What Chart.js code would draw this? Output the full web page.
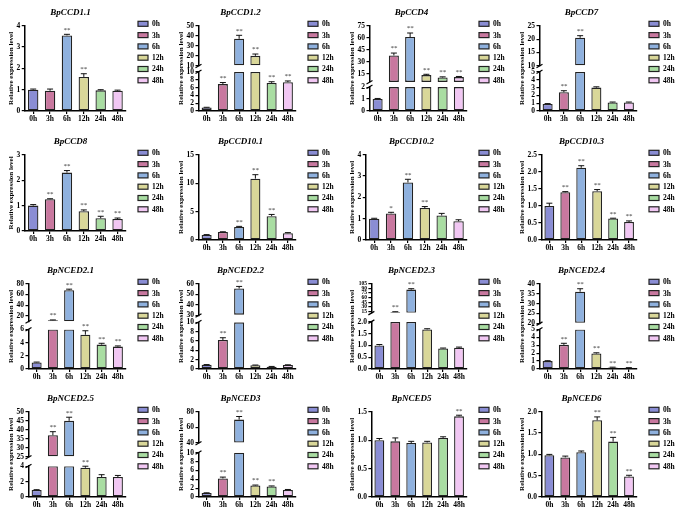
<!DOCTYPE html>
<html>
<head>
<meta charset="utf-8">
<script src="https://cdn.jsdelivr.net/npm/chart.js@4.4.0/dist/chart.umd.min.js"></script>
<style>
  body { margin: 0; background: #fff; }
  #fig { position: relative; width: 685px; height: 519px; overflow: hidden; }
  .panel { position: absolute; }
</style>
</head>
<body>
<div id="fig"></div>
<script>
const times = ['0h', '3h', '6h', '12h', '24h', '48h'];
const barColors = ['#8a8dd4', '#c8789f', '#8fb1de', '#d9d799', '#a9dda2', '#f1c7f3'];

// BpCCD1.1
const ccd11 = [1.0, 0.95, 3.55, 1.6, 0.97, 0.95];
const ccd11Err = [0.03, 0.08, 0.05, 0.15, 0.03, 0.03];
const ccd11Sig = ['', '', '**', '**', '', ''];
const ccd11Ticks = [0, 1, 2, 3, 4];

// BpCCD1.2
const ccd12 = [0.9, 6.9, 37, 20, 7.2, 7.4];
const ccd12Err = [0.05, 0.4, 3.5, 1.8, 0.3, 0.3];
const ccd12Sig = ['', '**', '**', '**', '**', '**'];
const ccd12Ticks = [0, 2, 4, 6, 8, 10];
const ccd12HighTicks = [10, 20, 30, 40, 50];

// BpCCD4
const ccd4 = [1.0, 38, 61, 13.5, 10.5, 11];
const ccd4Err = [0.05, 3, 5, 1.0, 0.8, 0.8];
const ccd4Sig = ['', '**', '**', '**', '**', '**'];
const ccd4Ticks = [0, 1, 2];
const ccd4HighTicks = [15, 30, 45, 60, 75];

// BpCCD7
const ccd7 = [0.9, 2.4, 20.5, 3.0, 1.1, 1.1];
const ccd7Err = [0.05, 0.2, 0.8, 0.1, 0.05, 0.05];
const ccd7Sig = ['', '**', '**', '', '', ''];
const ccd7Ticks = [0, 1, 2, 3, 4, 5];
const ccd7HighTicks = [10, 15, 20, 25];

// BpCCD8
const ccd8 = [1.0, 1.25, 2.3, 0.78, 0.5, 0.47];
const ccd8Err = [0.04, 0.02, 0.08, 0.05, 0.08, 0.04];
const ccd8Sig = ['', '**', '**', '**', '**', '**'];
const ccd8Ticks = [0, 1, 2, 3];

// BpCCD10.1
const ccd101 = [0.9, 1.4, 2.3, 10.8, 4.2, 1.2];
const ccd101Err = [0.05, 0.05, 0.1, 0.7, 0.3, 0.1];
const ccd101Sig = ['', '', '**', '**', '**', ''];
const ccd101Ticks = [0, 5, 10, 15];

// BpCCD10.2
const ccd102 = [1.0, 1.25, 2.7, 1.5, 1.15, 0.88];
const ccd102Err = [0.02, 0.05, 0.15, 0.07, 0.1, 0.07];
const ccd102Sig = ['', '*', '**', '**', '', ''];
const ccd102Ticks = [0, 1, 2, 3, 4];

// BpCCD10.3
const ccd103 = [1.0, 1.4, 2.12, 1.43, 0.63, 0.53];
const ccd103Err = [0.08, 0.02, 0.06, 0.05, 0.01, 0.03];
const ccd103Sig = ['', '**', '**', '**', '**', '**'];
const ccd103Ticks = [0, 0.5, 1.0, 1.5, 2.0, 2.5];

// BpNCED2.1
const nced21 = [1.0, 12, 68, 5.2, 3.7, 3.4];
const nced21Err = [0.05, 0.6, 2, 0.6, 0.2, 0.1];
const nced21Sig = ['', '**', '**', '**', '**', '**'];
const nced21Ticks = [0, 2, 4, 6];
const nced21HighTicks = [20, 40, 60, 80];

// BpNCED2.2
const nced22 = [0.9, 6.2, 55.5, 0.8, 0.5, 0.85];
const nced22Err = [0.05, 0.5, 2, 0.05, 0.05, 0.05];
const nced22Sig = ['', '**', '**', '', '', ''];
const nced22Ticks = [0, 2, 4, 6, 8, 10];
const nced22HighTicks = [30, 40, 50, 60];

// BpNCED2.3
const nced23 = [1.0, 13, 86, 1.68, 0.87, 0.9];
const nced23Err = [0.04, 0.8, 3, 0.03, 0.02, 0.03];
const nced23Sig = ['', '**', '**', '', '', ''];
const nced23Ticks = [0, 0.5, 1.0, 1.5, 2.0];
const nced23HighTicks = [15, 30, 45, 60, 75, 90, 105];

// BpNCED2.4
const nced24 = [1.0, 3.05, 36, 1.95, 0.2, 0.15];
const nced24Err = [0.05, 0.2, 1.5, 0.1, 0.03, 0.02];
const nced24Sig = ['', '**', '**', '**', '**', '**'];
const nced24Ticks = [0, 1, 2, 3, 4, 5];
const nced24HighTicks = [20, 25, 30, 35, 40];

// BpNCED2.5
const nced25 = [0.9, 37, 45, 3.8, 2.6, 2.6];
const nced25Err = [0.05, 2, 2, 0.2, 0.3, 0.2];
const nced25Sig = ['', '**', '**', '**', '', ''];
const nced25Ticks = [0, 2, 4];
const nced25HighTicks = [25, 30, 35, 40, 45, 50];

// BpNCED3
const nced3 = [0.9, 4.2, 70, 2.6, 2.4, 1.6];
const nced3Err = [0.05, 0.3, 4, 0.1, 0.1, 0.1];
const nced3Sig = ['', '**', '**', '**', '**', ''];
const nced3Ticks = [0, 2, 4, 6, 8, 10];
const nced3HighTicks = [40, 60, 80];

// BpNCED5
const nced5 = [1.0, 0.98, 0.95, 0.96, 1.04, 1.42];
const nced5Err = [0.03, 0.06, 0.03, 0.02, 0.02, 0.02];
const nced5Sig = ['', '', '', '', '', '**'];
const nced5Ticks = [0, 0.5, 1.0, 1.5];

// BpNCED6
const nced6 = [0.98, 0.93, 1.05, 1.8, 1.3, 0.48];
const nced6Err = [0.02, 0.03, 0.03, 0.08, 0.1, 0.03];
const nced6Sig = ['', '', '', '**', '**', '**'];
const nced6Ticks = [0, 0.5, 1.0, 1.5, 2.0];

// split = pixel weights of [upper, gap, lower] for broken axes
const panels = [
  { name: 'BpCCD1.1', vals: ccd11, err: ccd11Err, sig: ccd11Sig, ticks: ccd11Ticks },
  { name: 'BpCCD1.2', vals: ccd12, err: ccd12Err, sig: ccd12Sig, ticks: ccd12Ticks, high: ccd12HighTicks, highMin: 10, split: [39, 6, 38] },
  { name: 'BpCCD4', vals: ccd4, err: ccd4Err, sig: ccd4Sig, ticks: ccd4Ticks, high: ccd4HighTicks, highMin: 5, split: [54, 5, 23] },
  { name: 'BpCCD7', vals: ccd7, err: ccd7Err, sig: ccd7Sig, ticks: ccd7Ticks, high: ccd7HighTicks, highMin: 10, split: [39, 6, 38] },
  { name: 'BpCCD8', vals: ccd8, err: ccd8Err, sig: ccd8Sig, ticks: ccd8Ticks, h: 121 },
  { name: 'BpCCD10.1', vals: ccd101, err: ccd101Err, sig: ccd101Sig, ticks: ccd101Ticks },
  { name: 'BpCCD10.2', vals: ccd102, err: ccd102Err, sig: ccd102Sig, ticks: ccd102Ticks },
  { name: 'BpCCD10.3', vals: ccd103, err: ccd103Err, sig: ccd103Sig, ticks: ccd103Ticks },
  { name: 'BpNCED2.1', vals: nced21, err: nced21Err, sig: nced21Sig, ticks: nced21Ticks, high: nced21HighTicks, highMin: 10, split: [37, 8, 39] },
  { name: 'BpNCED2.2', vals: nced22, err: nced22Err, sig: nced22Sig, ticks: nced22Ticks, high: nced22HighTicks, highMin: 30, split: [31, 7, 46] },
  { name: 'BpNCED2.3', vals: nced23, err: nced23Err, sig: nced23Sig, ticks: nced23Ticks, high: nced23HighTicks, highMin: 10, split: [29, 9, 47], highFont: 5.5 },
  { name: 'BpNCED2.4', vals: nced24, err: nced24Err, sig: nced24Sig, ticks: nced24Ticks, high: nced24HighTicks, highMin: 20, split: [39, 6, 39] },
  { name: 'BpNCED2.5', vals: nced25, err: nced25Err, sig: nced25Sig, ticks: nced25Ticks, high: nced25HighTicks, highMin: 25, split: [44, 9, 30] },
  { name: 'BpNCED3', vals: nced3, err: nced3Err, sig: nced3Sig, ticks: nced3Ticks, high: nced3HighTicks, highMin: 40, split: [29, 9, 41] },
  { name: 'BpNCED5', vals: nced5, err: nced5Err, sig: nced5Sig, ticks: nced5Ticks },
  { name: 'BpNCED6', vals: nced6, err: nced6Err, sig: nced6Sig, ticks: nced6Ticks }
];

const FONT = "'Liberation Serif', 'Times New Roman', serif";
const colX = [0, 170, 341, 511];
const rowY = [0, 129, 258, 386];
const W = 172, H = 130;

function valueAxis(ticks, min, size) {
  const dec = ticks.some(t => t % 1 !== 0) ? 1 : 0;
  return {
    type: 'linear',
    position: 'left',
    min: min,
    max: ticks[ticks.length - 1],
    afterBuildTicks: s => { s.ticks = ticks.map(v => ({ value: v })); },
    ticks: {
      font: { family: FONT, size: size || 7.5, weight: 'bold' }, color: '#000', padding: 1.5,
      autoSkip: false, callback: v => v.toFixed(dec)
    },
    grid: { display: true, drawOnChartArea: false, drawTicks: true, tickLength: 3, color: '#000', lineWidth: 1.2 },
    border: { display: true, color: '#000', width: 1.5 }
  };
}

// error bars, stars, axis breaks, y title and legend
function marks(p) {
  return {
    id: 'marks',
    afterDatasetsDraw(chart) {
      const ctx = chart.ctx;
      const lowMax = p.ticks[p.ticks.length - 1];
      ctx.save();
      ctx.strokeStyle = '#111';
      ctx.lineWidth = 1;
      ctx.fillStyle = '#333';
      ctx.font = '7px ' + FONT;
      ctx.textAlign = 'center';
      ctx.textBaseline = 'bottom';
      p.vals.forEach((v, i) => {
        const sc = (p.high && v > lowMax) ? chart.scales.yHigh : chart.scales.y;
        const x = chart.scales.x.getPixelForValue(i);
        const y0 = sc.getPixelForValue(v);
        const y1 = sc.getPixelForValue(v + p.err[i]);
        ctx.beginPath();
        ctx.moveTo(x, y0); ctx.lineTo(x, y1);
        ctx.moveTo(x - 3, y1); ctx.lineTo(x + 3, y1);
        ctx.stroke();
        if (p.sig[i]) ctx.fillText(p.sig[i], x, y1 - 1);
      });
      ctx.restore();
    },
    afterDraw(chart) {
      const ctx = chart.ctx;
      const area = chart.chartArea;
      ctx.save();
      ctx.fillStyle = '#000';
      ctx.font = 'bold 7px ' + FONT;
      ctx.translate(11, (area.top + area.bottom) / 2);
      ctx.rotate(-Math.PI / 2);
      ctx.textAlign = 'center';
      ctx.textBaseline = 'middle';
      ctx.fillText('Relative expression level', 0, 0);
      ctx.restore();

      // legend
      ctx.save();
      ctx.font = 'bold 7.5px ' + FONT;
      ctx.textBaseline = 'middle';
      ctx.textAlign = 'left';
      ctx.lineWidth = 1.2;
      ctx.strokeStyle = '#222';
      times.forEach((t, i) => {
        const y = area.top - 2 + i * 11.3;
        ctx.fillStyle = barColors[i];
        ctx.fillRect(138, y - 2.5, 10, 5);
        ctx.strokeRect(138, y - 2.5, 10, 5);
        ctx.fillStyle = '#000';
        ctx.fillText(t, 152, y + 0.5);
      });
      ctx.restore();

      if (p.high) {
        const g = chart.scales.yGap;
        const ax = chart.scales.y.right;
        ctx.save();
        ctx.strokeStyle = '#000';
        ctx.lineWidth = 1.2;
        ctx.beginPath();
        ctx.moveTo(ax - 3, g.bottom + 1.5); ctx.lineTo(ax + 3, g.bottom - 2);
        ctx.moveTo(ax - 3, g.top + 2); ctx.lineTo(ax + 3, g.top - 1.5);
        ctx.stroke();
        ctx.restore();
      }
    }
  };
}

function makePanel(p, idx) {
  const h = p.h || H;
  const div = document.createElement('div');
  div.className = 'panel';
  div.style.left = colX[idx % 4] + 'px';
  div.style.top = rowY[Math.floor(idx / 4)] + 'px';
  const cv = document.createElement('canvas');
  cv.style.width = W + 'px';
  cv.style.height = h + 'px';
  cv.width = W; cv.height = h;
  div.appendChild(cv);
  document.getElementById('fig').appendChild(div);

  const lowMax = p.ticks[p.ticks.length - 1];
  const barStyle = {
    backgroundColor: barColors,
    borderColor: '#222',
    borderWidth: 1.3,
    borderSkipped: false,
    barPercentage: 0.65,
    categoryPercentage: 0.95,
    grouped: false
  };
  const datasets = [Object.assign({
    data: p.high ? p.vals.map(v => Math.min(v, lowMax)) : p.vals,
    yAxisID: 'y'
  }, barStyle)];

  const scales = {
    x: {
      type: 'category',
      ticks: { font: { family: FONT, size: 7.5, weight: 'bold' }, color: '#000', padding: 1, maxRotation: 0, autoSkip: false },
      grid: { display: true, offset: false, drawOnChartArea: false, tickLength: 3, color: '#000', lineWidth: 1.2 },
      border: { display: true, color: '#000', width: 1.5 }
    },
    y: valueAxis(p.ticks, 0)
  };

  if (p.high) {
    datasets.push(Object.assign({
      data: p.vals.map(v => v > lowMax ? v : null),
      yAxisID: 'yHigh',
      base: p.highMin
    }, barStyle));
    scales.y.stack = 'v';
    scales.y.stackWeight = p.split[2];
    scales.yGap = {
      type: 'linear', position: 'left', stack: 'v', stackWeight: p.split[1],
      min: 0, max: 1,
      ticks: { display: false }, grid: { display: false, drawTicks: false }, border: { display: false }
    };
    scales.yHigh = valueAxis(p.high, p.highMin, p.highFont);
    scales.yHigh.stack = 'v';
    scales.yHigh.stackWeight = p.split[0];
  }

  new Chart(cv, {
    type: 'bar',
    data: { labels: times, datasets: datasets },
    options: {
      responsive: false,
      animation: false,
      devicePixelRatio: 1,
      layout: { padding: { left: 15, right: 46, bottom: 5 } },
      scales: scales,
      plugins: {
        title: {
          display: true, text: p.name, color: '#000',
          font: { family: FONT, size: 9, style: 'italic', weight: 'bold' },
          padding: { top: 7, bottom: 8 }
        },
        legend: { display: false },
        tooltip: { enabled: false }
      }
    },
    plugins: [marks(p)]
  });
}

panels.forEach(makePanel);
</script>
</body>
</html>
